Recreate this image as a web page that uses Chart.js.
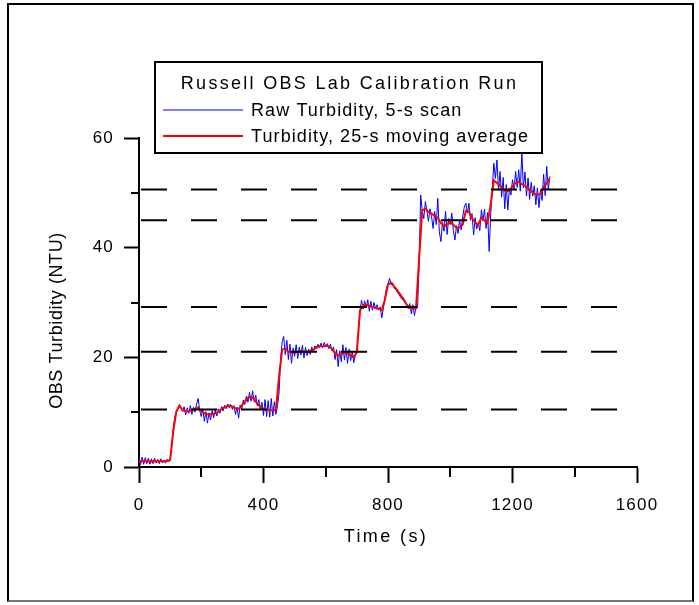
<!DOCTYPE html>
<html><head><meta charset="utf-8">
<script src="https://cdn.jsdelivr.net/npm/chart.js@4.4.1/dist/chart.umd.min.js"></script>
<style>
html,body{margin:0;padding:0;background:#fff;}
#wrap{position:relative;width:699px;height:605px;overflow:hidden;}
#frame{position:absolute;left:7px;top:3px;width:687px;height:599px;box-sizing:border-box;border:2px solid #000;border-bottom-color:#777;pointer-events:none;}
canvas{position:absolute;left:0;top:0;}
</style></head><body>
<div id="wrap"><canvas id="c" width="699" height="605"></canvas><div id="frame"></div></div>
<script>
// ---- data (NTU) ----
const SCAN_STEP_S = 5;    // raw scan interval
const AVG_STEP_S = 10;    // sampling of the moving-average trace
const rawTurbidity = [
  1.9,0.4,1.8,0.5,1.7,0.6,1.6,0.5,1.5,0.6,1.6,0.7,1.4,0.6,1.5,0.8,1.3,0.7,1.4,1.0,
  1.2,3.6,6.8,9.2,10.1,10.6,11.3,10.7,10.2,11.0,
  9.5,10.8,9.8,11.2,9.6,10.9,10.0,11.5,12.5,10.3,
  9.2,10.6,8.3,10.1,8.0,9.9,8.6,10.3,9.0,10.4,
  9.3,10.6,9.8,11.0,10.2,11.3,10.6,11.5,10.8,11.4,
  10.5,11.2,9.6,10.9,8.9,11.3,10.4,12.2,11.4,12.9,
  11.8,13.6,12.0,13.9,11.9,13.1,11.2,12.3,10.4,11.8,
  9.4,12.3,9.2,12.1,9.1,12.5,9.3,11.9,9.6,11.2,
  13.5,19.8,22.9,23.8,20.5,23.1,19.6,22.4,18.9,21.7,
  20.2,22.3,19.8,21.9,20.4,22.2,19.9,21.8,20.3,21.5,
  20.5,21.9,21.0,22.1,21.6,22.4,21.8,22.6,21.7,22.7,
  22.0,22.5,21.6,22.4,21.2,21.9,19.6,21.4,18.3,21.2,
  19.2,22.3,19.5,21.8,18.9,21.5,19.4,21.1,19.0,20.4,
  21.5,25.0,28.6,30.4,28.8,30.3,29.0,30.5,28.4,30.2,
  28.6,30.0,28.9,29.6,28.7,29.2,27.2,28.9,30.8,32.6,
  33.4,34.4,33.2,33.6,32.6,32.4,31.9,31.5,31.0,30.6,
  30.4,29.9,29.6,28.9,29.8,27.9,29.6,27.6,29.3,29.0,
  37.0,49.6,46.8,45.3,48.4,46.7,44.8,47.1,45.6,43.5,
  46.6,44.2,49.0,42.9,41.1,44.6,43.0,46.6,42.4,45.3,
  44.2,46.3,43.1,41.4,44.0,42.6,45.1,43.2,45.6,47.4,
  48.1,46.3,48.1,45.0,46.2,42.3,45.5,43.4,44.5,43.1,
  46.9,44.9,47.0,43.5,46.4,39.3,46.0,50.8,55.4,52.6,
  56.0,50.4,53.9,49.2,52.8,47.1,51.5,46.9,50.8,49.6,
  52.4,50.6,53.9,51.0,54.2,50.3,57.5,50.9,53.8,49.4,
  52.7,48.8,51.9,49.4,51.3,47.8,50.9,47.3,50.6,48.6,
  53.4,49.5,54.8,50.6,53.0
];
const avgTurbidity = [
  1.1,1.1,1.0,1.1,1.0,1.1,1.0,1.1,1.0,1.1,
  1.3,6.5,10.1,11.2,10.3,10.2,10.1,10.4,10.6,10.9,
  10.2,9.8,9.6,9.6,9.7,9.9,10.3,10.8,11.0,11.2,
  11.0,10.7,10.6,11.2,11.9,12.6,12.8,12.4,11.5,11.0,
  10.6,10.4,10.4,10.3,10.5,16.5,21.4,21.6,21.0,20.9,
  20.9,21.0,21.1,21.1,21.0,21.2,21.4,21.8,22.0,22.0,
  22.1,22.0,21.5,20.8,20.3,20.6,20.9,20.7,20.4,20.0,
  21.0,28.5,29.5,29.6,29.4,29.2,29.0,28.8,28.6,30.5,
  33.3,33.6,32.9,32.2,31.4,30.6,29.6,29.0,28.9,28.9,
  38.0,46.8,47.1,46.5,46.2,45.8,45.4,44.5,43.8,44.3,
  44.7,44.2,43.6,43.7,44.2,46.7,46.6,45.4,44.6,44.2,
  45.5,44.9,44.5,47.9,52.3,51.8,51.3,50.6,50.2,50.4,
  51.2,51.8,52.0,51.6,51.3,50.8,50.3,49.8,49.6,49.9,
  51.0,51.8,52.6
];
const refLevels = [10.5, 21, 29.2, 45, 50.6];   // dashed calibration levels
const refSpan = [0, 1536];                       // time extent of dashed lines
const xTicks = [0, 400, 800, 1200, 1600];
const xMinorTicks = [200, 600, 1000, 1400];
const yTicks = [0, 20, 40, 60];
const yMinorTicks = [10, 30, 50];
const legendTitle = 'Russell OBS Lab Calibration Run';
const seriesLabels = ['Raw Turbidity, 5-s scan', 'Turbidity, 25-s moving average'];
const xTitle = 'Time (s)';
const yTitle = 'OBS Turbidity (NTU)';

const FONT = '"Liberation Sans", Arial, Helvetica, sans-serif';
Chart.defaults.font.family = FONT;
Chart.defaults.color = '#000';

const rawPts = rawTurbidity.map((v, i) => ({x: i * SCAN_STEP_S, y: v}));
const avgPts = avgTurbidity.map((v, i) => ({x: i * AVG_STEP_S, y: v}));

const datasets = [
  {label: seriesLabels[0], data: rawPts, borderColor: '#0000ff', borderWidth: 1, pointRadius: 0, order: 2},
  {label: seriesLabels[1], data: avgPts, borderColor: '#ff0000', borderWidth: 2, pointRadius: 0, order: 1}
];
refLevels.forEach(l => datasets.push({
  label: 'ref', data: refSpan.map(x => ({x, y: l})), borderColor: '#000', borderWidth: 2,
  borderDash: [26, 24], borderDashOffset: 48, pointRadius: 0, order: 0
}));

const spacingPlugin = {
  id: 'spacing',
  beforeUpdate(chart) { chart.ctx.letterSpacing = '1.2px'; },
  beforeDraw(chart) { chart.ctx.letterSpacing = '1.2px'; }
};

const extrasPlugin = {
  id: 'extras',
  afterDraw(chart) {
    const ctx = chart.ctx, xs = chart.scales.x, ys = chart.scales.y;
    const ca = chart.chartArea;
    ctx.save();
    ctx.strokeStyle = '#000'; ctx.lineWidth = 2;
    xMinorTicks.forEach(v => {
      const px = Math.round(xs.getPixelForValue(v));
      ctx.beginPath(); ctx.moveTo(px, ca.bottom); ctx.lineTo(px, ca.bottom + 10); ctx.stroke();
    });
    yMinorTicks.forEach(v => {
      const py = Math.round(ys.getPixelForValue(v));
      ctx.beginPath(); ctx.moveTo(ca.left, py); ctx.lineTo(ca.left - 8, py); ctx.stroke();
    });
    // axis titles
    ctx.fillStyle = '#000';
    ctx.font = '18px ' + FONT;
    ctx.textBaseline = 'middle';
    ctx.textAlign = 'center';
    ctx.letterSpacing = '2.4px';
    ctx.fillText(xTitle, (ca.left + ca.right) / 2 - 2, 537);
    ctx.save();
    ctx.translate(57, (ca.top + ca.bottom) / 2 + 18);
    ctx.rotate(-Math.PI / 2);
    ctx.letterSpacing = '0.6px';
    ctx.fillText(yTitle, 0, 0);
    ctx.restore();
    // legend box
    const bx = 155, by = 62, bw = 387, bh = 91;
    ctx.fillStyle = '#fff'; ctx.fillRect(bx, by, bw, bh);
    ctx.lineWidth = 2; ctx.strokeStyle = '#000'; ctx.strokeRect(bx, by, bw, bh);
    ctx.fillStyle = '#000';
    ctx.font = '18px ' + FONT;
    ctx.textBaseline = 'middle';
    ctx.textAlign = 'center';
    ctx.letterSpacing = '2.3px';
    ctx.fillText(legendTitle, bx + bw / 2 + 1, 84);
    ctx.textAlign = 'left';
    ctx.letterSpacing = '1.1px';
    const rows = [110, 136];
    [0, 1].forEach(i => {
      const ds = chart.data.datasets[i];
      ctx.strokeStyle = ds.borderColor; ctx.lineWidth = ds.borderWidth;
      ctx.beginPath(); ctx.moveTo(163, rows[i]); ctx.lineTo(243, rows[i]); ctx.stroke();
      ctx.fillStyle = '#000';
      ctx.fillText(ds.label, 251, rows[i] + 1);
    });
    ctx.restore();
  }
};

new Chart(document.getElementById('c'), {
  type: 'line',
  data: {datasets},
  options: {
    responsive: false,
    animation: false,
    elements: {line: {tension: 0}},
    layout: {padding: {left: 0, top: 138, right: 62, bottom: 0}},
    plugins: {legend: {display: false}, tooltip: {enabled: false}},
    scales: {
      x: {
        type: 'linear', position: 'bottom', min: 0, max: 1600,
        afterBuildTicks: s => { s.ticks = xTicks.map(v => ({value: v})); },
        afterFit: s => { s.height = 138; },
        grid: {display: true, drawOnChartArea: false, drawTicks: true, tickLength: 16, tickWidth: 2, tickColor: '#000'},
        border: {display: true, color: '#000', width: 2},
        ticks: {font: {size: 17}, color: '#000', padding: 12, maxRotation: 0, autoSkip: false, callback: v => String(v)},
        title: {display: false}
      },
      y: {
        type: 'linear', position: 'left', min: 0, max: 60,
        afterBuildTicks: s => { s.ticks = yTicks.map(v => ({value: v})); },
        afterFit: s => { s.width = 139; },
        grid: {display: true, drawOnChartArea: false, drawTicks: true, tickLength: 15, tickWidth: 2, tickColor: '#000'},
        border: {display: true, color: '#000', width: 2},
        ticks: {font: {size: 17}, color: '#000', padding: 10, autoSkip: false, callback: v => String(v)},
        title: {display: false}
      }
    }
  },
  plugins: [spacingPlugin, extrasPlugin]
});
</script>
</body></html>
